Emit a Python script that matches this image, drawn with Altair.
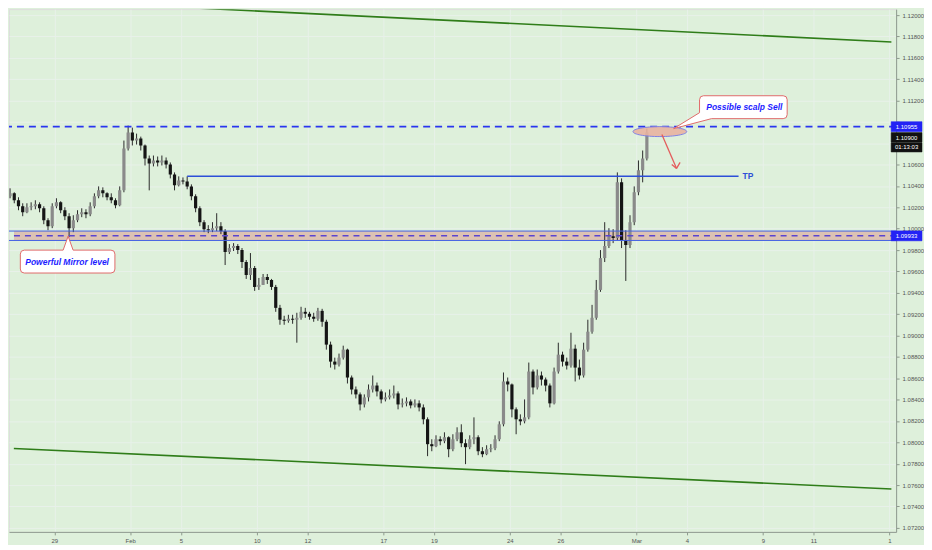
import altair as alt
import pandas as pd

# ---------------- data (EUR/USD, 4H candles) ----------------
FIRST_OPEN = 1.10341
closes = [
    1.10303, 1.10331, 1.10266, 1.10210, 1.10154, 1.10201, 1.10210, 1.10229, 1.10191, 1.10080,
    1.10024, 1.10210, 1.10247, 1.10173, 1.10117, 1.10005, 1.10080, 1.10136, 1.10154, 1.10136,
    1.10210, 1.10303, 1.10359, 1.10331, 1.10294, 1.10266, 1.10219, 1.10359, 1.10751, 1.10900,
    1.10825, 1.10844, 1.10779, 1.10657, 1.10611, 1.10639, 1.10620, 1.10639, 1.10602, 1.10508,
    1.10406, 1.10452, 1.10443, 1.10396, 1.10303, 1.10191, 1.10061, 1.09996, 1.09986, 1.10005,
    1.10024, 1.09977, 1.09781, 1.09819, 1.09837, 1.09800, 1.09688, 1.09567, 1.09632, 1.09455,
    1.09474, 1.09548, 1.09520, 1.09455, 1.09259, 1.09148, 1.09138, 1.09157, 1.09148, 1.09166,
    1.09222, 1.09204, 1.09176, 1.09157, 1.09231, 1.09129, 1.08915, 1.08756, 1.08728, 1.08793,
    1.08868, 1.08607, 1.08495, 1.08449, 1.08355, 1.08421, 1.08495, 1.08532, 1.08477, 1.08402,
    1.08421, 1.08439, 1.08458, 1.08355, 1.08365, 1.08383, 1.08346, 1.08365, 1.08327, 1.08216,
    1.07983, 1.07964, 1.08029, 1.08011, 1.08048, 1.07936, 1.08029, 1.08094, 1.07992, 1.07955,
    1.08029, 1.08048, 1.07917, 1.07889, 1.07936, 1.07945, 1.08029, 1.08169, 1.08570, 1.08542,
    1.08309, 1.08216, 1.08197, 1.08234, 1.08663, 1.08514, 1.08626, 1.08588, 1.08532, 1.08365,
    1.08663, 1.08821, 1.08756, 1.08719, 1.08877, 1.08700, 1.08626, 1.08868, 1.09036, 1.09166,
    1.09427, 1.09725, 1.09837, 1.09930, 1.09912, 1.10434, 1.09893, 1.09847, 1.10061, 1.10341,
    1.10546, 1.10657, 1.10900,
]
highs = [
    1.10378, 1.10378, 1.10341, 1.10294, 1.10238, 1.10238, 1.10247, 1.10266, 1.10247, 1.10210,
    1.10098, 1.10238, 1.10285, 1.10257, 1.10201, 1.10145, 1.10126, 1.10173, 1.10191, 1.10182,
    1.10247, 1.10331, 1.10396, 1.10387, 1.10341, 1.10331, 1.10285, 1.10396, 1.10825, 1.10965,
    1.10946, 1.10890, 1.10862, 1.10788, 1.10685, 1.10685, 1.10676, 1.10685, 1.10667, 1.10620,
    1.10527, 1.10490, 1.10480, 1.10490, 1.10415, 1.10322, 1.10210, 1.10080, 1.10033, 1.10061,
    1.10145, 1.10061, 1.09996, 1.09856, 1.09865, 1.09856, 1.09819, 1.09707, 1.09772, 1.09651,
    1.09539, 1.09576, 1.09576, 1.09530, 1.09474, 1.09287, 1.09185, 1.09194, 1.09194, 1.09213,
    1.09269, 1.09259, 1.09222, 1.09213, 1.09259, 1.09250, 1.09148, 1.08943, 1.08793, 1.08831,
    1.08905, 1.08877, 1.08626, 1.08523, 1.08467, 1.08449, 1.08542, 1.08626, 1.08560, 1.08495,
    1.08467, 1.08495, 1.08532, 1.08477, 1.08411, 1.08421, 1.08402, 1.08402, 1.08393, 1.08355,
    1.08234, 1.08029, 1.08066, 1.08057, 1.08094, 1.08057, 1.08076, 1.08141, 1.08169, 1.08029,
    1.08066, 1.08234, 1.08066, 1.07955, 1.07973, 1.07983, 1.08066, 1.08197, 1.08654, 1.08607,
    1.08551, 1.08327, 1.08262, 1.08402, 1.08747, 1.08682, 1.08682, 1.08663, 1.08607, 1.08551,
    1.08700, 1.08933, 1.08849, 1.08793, 1.09026, 1.08915, 1.08775, 1.08933, 1.09148, 1.09287,
    1.09520, 1.09800, 1.10061, 1.10005, 1.09996, 1.10527, 1.10471, 1.09986, 1.10126, 1.10396,
    1.10639, 1.10732, 1.10937,
]
lows = [
    1.10285, 1.10285, 1.10238, 1.10173, 1.10117, 1.10145, 1.10173, 1.10182, 1.10154, 1.10042,
    1.09986, 1.10005, 1.10191, 1.10145, 1.10080, 1.09921, 1.09968, 1.10061, 1.10108, 1.10098,
    1.10117, 1.10191, 1.10285, 1.10294, 1.10266, 1.10238, 1.10191, 1.10210, 1.10341, 1.10732,
    1.10779, 1.10788, 1.10732, 1.10592, 1.10359, 1.10583, 1.10583, 1.10592, 1.10564, 1.10471,
    1.10359, 1.10396, 1.10415, 1.10369, 1.10266, 1.10154, 1.10024, 1.09968, 1.09958, 1.09968,
    1.09977, 1.09949, 1.09660, 1.09763, 1.09791, 1.09763, 1.09632, 1.09530, 1.09520, 1.09418,
    1.09427, 1.09474, 1.09483, 1.09427, 1.09222, 1.09101, 1.09101, 1.09120, 1.09110, 1.08933,
    1.09148, 1.09166, 1.09148, 1.09129, 1.09138, 1.09082, 1.08868, 1.08700, 1.08682, 1.08710,
    1.08775, 1.08551, 1.08449, 1.08411, 1.08299, 1.08327, 1.08383, 1.08467, 1.08430, 1.08365,
    1.08383, 1.08402, 1.08411, 1.08309, 1.08327, 1.08337, 1.08318, 1.08327, 1.08290, 1.08169,
    1.07871, 1.07917, 1.07955, 1.07973, 1.07992, 1.07861, 1.07917, 1.08011, 1.07955, 1.07796,
    1.07936, 1.07983, 1.07880, 1.07861, 1.07880, 1.07908, 1.07927, 1.08011, 1.08150, 1.08477,
    1.08234, 1.08076, 1.08160, 1.08178, 1.08216, 1.08449, 1.08495, 1.08532, 1.08477, 1.08327,
    1.08355, 1.08644, 1.08710, 1.08682, 1.08700, 1.08570, 1.08588, 1.08607, 1.08849, 1.09017,
    1.09148, 1.09409, 1.09688, 1.09819, 1.09865, 1.09893, 1.09819, 1.09511, 1.09819, 1.10033,
    1.10313, 1.10434, 1.10639,
]
BARS_PER_DAY = 6  # 4-hour candles, trading days only (day 0 = Mon 27 Jan)

tick_days = [2, 5, 7, 10, 12, 15, 17, 20, 22, 25, 27, 30, 32, 35]
tick_labels = ["29", "Feb", "5", "10", "12", "17", "19", "24", "26", "Mar", "4", "9", "11", "1"]
price_ticks = [1.072, 1.074, 1.076, 1.078, 1.080, 1.082, 1.084, 1.086, 1.088, 1.090,
               1.092, 1.094, 1.096, 1.098, 1.100, 1.102, 1.104, 1.106, 1.108, 1.110,
               1.112, 1.114, 1.116, 1.118, 1.120]
covered_ticks = [1.108, 1.110]   # labels hidden under the price badges

resistance = 1.10955
mirror = 1.09933
zone_low, zone_high = 1.09890, 1.09978
tp_level, tp_from, tp_to = 1.10490, 7.25, 29.04
last_price = 1.10900
countdown = "01:13:03"
channel_top = [0.40, 1.12149, 35.08, 1.11748]
channel_bottom = [0.40, 1.07943, 35.08, 1.07563]
ellipse_at = [25.93, 1.10909]
arrow_shaft = [26.01, 1.10881, 26.59, 1.10564]
arrow_arms = [[26.59, 1.10564, 26.40, 1.10602], [26.59, 1.10564, 26.73, 1.10621]]
sell_note = ["Possible scalp Sell", 26.475, 1.10937]
mirror_note = ["Powerful Mirror level", 2.545, 1.09930]

X_DOMAIN = [0.405, 35.07]
Y_DOMAIN = [1.07162, 1.12055]

# ---------------- build tables ----------------
opens = [FIRST_OPEN] + closes[:-1]
candles = pd.DataFrame({"open": opens, "close": closes, "high": highs, "low": lows})
candles["day"] = (candles.index + 0.5) / BARS_PER_DAY

BG = "#def0db"
FONT = "Liberation Sans"
xs = alt.Scale(domain=X_DOMAIN, nice=False, zero=False)
ys = alt.Scale(domain=Y_DOMAIN, nice=False, zero=False)

x_label_expr = ("[" + ",".join("'%s'" % t for t in tick_labels) + "][indexof(["
                + ",".join(str(d) for d in tick_days) + "], datum.value)]")
y_label_expr = ("(" + " || ".join("abs(datum.value - %s) < 0.00001" % v for v in covered_ticks)
                + ") ? '' : format(datum.value, '.5f')")
x_axis = alt.Axis(values=tick_days, labelExpr=x_label_expr, title=None, grid=True,
                  gridColor="#e8f1ea", domainColor="#8d9a8d", tickColor="#8d9a8d",
                  tickSize=3, labelFontSize=6, labelColor="#555555", labelPadding=3,
                  labelFlush=False, labelOverlap=False, labelFont=FONT)
y_axis = alt.Axis(orient="right", values=price_ticks, labelExpr=y_label_expr, title=None,
                  grid=True, gridColor="#e8f1ea", domainColor="#8d9a8d", tickColor="#8d9a8d",
                  tickSize=3, labelFontSize=6, labelColor="#555555", labelPadding=3,
                  labelFlush=False, labelOverlap=False, labelFont=FONT)


def X(f):
    return alt.X(f, type="quantitative", scale=xs, axis=x_axis)


def Y(f):
    return alt.Y(f, type="quantitative", scale=ys, axis=y_axis)


zone = alt.Chart(pd.DataFrame({"x0": [X_DOMAIN[0]], "x1": [X_DOMAIN[1]],
                               "lo": [zone_low], "hi": [zone_high]})).mark_rect(
    color="#dcc2b3", opacity=1).encode(x=X("x0"), x2="x1", y=Y("lo"), y2="hi")

chan = pd.DataFrame([channel_top, channel_bottom], columns=["x0", "y0", "x1", "y1"])
channel = alt.Chart(chan).mark_rule(color="#2f7d19", strokeWidth=1.6, clip=True).encode(
    x=X("x0"), x2="x1", y=Y("y0"), y2="y1")

wicks = alt.Chart(candles).mark_rule(color="#2a2a2a", strokeWidth=1, clip=True).encode(
    x=X("day"), y=Y("low"), y2="high")
bodies = alt.Chart(candles).mark_bar(size=3.2, clip=True).encode(
    x=X("day"), y=Y("open"), y2="close",
    color=alt.condition("datum.close >= datum.open", alt.value("#8a8a8a"), alt.value("#151515")))

zone_lines = alt.Chart(pd.DataFrame({"y": [zone_low, zone_high]})).mark_rule(
    color="#4262e4", strokeWidth=1).encode(y=Y("y"))
mirror_line = alt.Chart(pd.DataFrame({"y": [mirror]})).mark_rule(
    color="#5a44d0", strokeWidth=1.5, strokeDash=[6, 5]).encode(y=Y("y"))
res_line = alt.Chart(pd.DataFrame({"y": [resistance]})).mark_rule(
    color="#2a35f0", strokeWidth=1.8, strokeDash=[7, 5]).encode(y=Y("y"))

tp_df = pd.DataFrame({"x0": [tp_from], "x1": [tp_to], "y": [tp_level], "t": ["TP"]})
tp_line = alt.Chart(tp_df).mark_rule(color="#2d4fd8", strokeWidth=1.5).encode(
    x=X("x0"), x2="x1", y=Y("y"))
tp_text = alt.Chart(tp_df).mark_text(align="left", baseline="middle", dx=4, fontSize=8.5,
                                     fontWeight="bold", color="#2d4fd8", font=FONT).encode(
    x=X("x1"), y=Y("y"), text="t:N")

ell = alt.Chart(pd.DataFrame({"x": [ellipse_at[0]], "y": [ellipse_at[1]]})).mark_point(
    shape="M-27,0 A27,5 0 1,0 27,0 A27,5 0 1,0 -27,0 Z", size=4, filled=True,
    fill="#e8b3a1", fillOpacity=0.9, stroke="#7f80e4", strokeWidth=1, opacity=1).encode(
    x=X("x"), y=Y("y"))

arr = pd.DataFrame([arrow_shaft] + arrow_arms, columns=["x0", "y0", "x1", "y1"])
arrow = alt.Chart(arr).mark_rule(color="#e35c5c", strokeWidth=1.3).encode(
    x=X("x0"), x2="x1", y=Y("y0"), y2="y1")

sell_df = pd.DataFrame({"t": [sell_note[0]], "x": [sell_note[1]], "y": [sell_note[2]]})
sell_box = alt.Chart(sell_df).mark_point(
    shape="M0,0 L26,-16 L26,-29 Q26,-33 30,-33 L110,-33 Q114,-33 114,-29 L114,-14 Q114,-10 110,-10 L38,-10 Z",
    size=4, filled=True, fill="white", stroke="#e06a6a", strokeWidth=1, opacity=1).encode(
    x=X("x"), y=Y("y"))
sell_text = alt.Chart(sell_df).mark_text(dx=71, dy=-21.5, fontSize=8.5, fontWeight="bold",
                                         fontStyle="italic", color="#1c1cff", font=FONT,
                                         baseline="middle").encode(
    x=X("x"), y=Y("y"), text="t:N")

mir_df = pd.DataFrame({"t": [mirror_note[0]], "x": [mirror_note[1]], "y": [mirror_note[2]]})
mir_box = alt.Chart(mir_df).mark_point(
    shape="M0,0 L5,14 L43,14 Q47,14 47,18 L47,33 Q47,37 43,37 L-44,37 Q-48,37 -48,33 L-48,18 Q-48,14 -44,14 L-5,14 Z",
    size=4, filled=True, fill="white", stroke="#e06a6a", strokeWidth=1, opacity=1).encode(
    x=X("x"), y=Y("y"))
mir_text = alt.Chart(mir_df).mark_text(dx=-1, dy=25.5, fontSize=8.5, fontWeight="bold",
                                       fontStyle="italic", color="#1c1cff", font=FONT,
                                       baseline="middle").encode(
    x=X("x"), y=Y("y"), text="t:N")

# price-scale badges
badges = pd.DataFrame({
    "x": [X_DOMAIN[1]] * 4,
    "y": [resistance, last_price, last_price, mirror],
    "t": ["%.5f" % resistance, "%.5f" % last_price, countdown, "%.5f" % mirror],
    "kind": ["blue_c", "black_0", "black_1", "blue_c"],
})
shapes = {
    "blue_c": ("M0,-5 L31,-5 L31,5 L0,5 Z", "#2323f5", 0),
    "black_0": ("M0,0 L31,0 L31,9.5 L0,9.5 Z", "#111111", 5),
    "black_1": ("M0,10 L31,10 L31,19.5 L0,19.5 Z", "#111111", 15),
}
badge_layers = []
for k, (path, col, dy) in shapes.items():
    sub = badges[badges["kind"] == k]
    badge_layers.append(alt.Chart(sub).mark_point(
        shape=path, size=4, filled=True, fill=col, stroke=col, strokeWidth=0.5, opacity=1).encode(
        x=X("x"), y=Y("y")))
    badge_layers.append(alt.Chart(sub).mark_text(
        dx=15.5, dy=dy, fontSize=6, color="white", font=FONT, baseline="middle").encode(
        x=X("x"), y=Y("y"), text="t:N"))

chart = alt.layer(
    zone, channel, wicks, bodies, zone_lines, mirror_line, res_line, tp_line, tp_text,
    ell, arrow, sell_box, sell_text, mir_box, mir_text, *badge_layers
).properties(
    width=891, height=525, padding=0, background=BG
).configure_view(stroke=None, fill=BG).configure(font=FONT)

chart.save("out.html", embed_options={"renderer": "svg", "actions": False})
